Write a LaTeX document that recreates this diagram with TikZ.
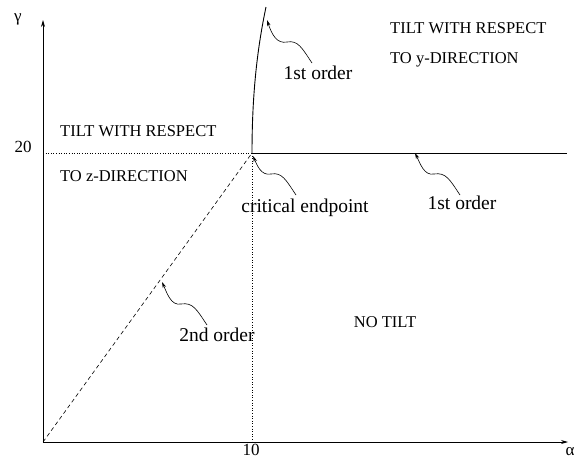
\documentclass[tikz,border=0pt]{standalone}
\usepackage{fontspec}
\setmainfont{Liberation Serif}
\usetikzlibrary{arrows.meta}
\begin{document}
\begin{tikzpicture}[x=1pt,y=-1pt,
  caps/.style={font=\fontsize{16.5}{18}\selectfont, inner sep=0pt},
  lbl/.style={font=\fontsize{19.5}{22}\selectfont, inner sep=0pt},
  num/.style={font=\fontsize{17}{20}\selectfont, inner sep=0pt},
  greek/.style={font=\fontsize{17}{20}\selectfont, inner sep=0pt},
  axis/.style={line width=0.7pt,-{Stealth[length=7pt,width=4pt]}},
  phase/.style={line width=0.9pt},
  ptr/.style={line width=0.6pt,-{Stealth[length=6pt,width=3.5pt]}}]
\useasboundingbox (0,0) rectangle (585,459);
% key points
\coordinate (O) at (43,442);
\coordinate (C) at (252,153);
\coordinate (Xend) at (568,442);
\coordinate (Yend) at (43,20);
\coordinate (Ytick) at (43,153);
\coordinate (Xtick) at (252,442);
\coordinate (Hend) at (567,153);
\coordinate (Vtop) at (266,7);
% axes
\draw[axis] (O) -- (Xend);
\draw[axis] (O) -- (Yend);
\node[greek, anchor=center] (ga) at (18,19) {γ};
\node[greek, anchor=center] (al) at (570,452) {α};
\node[num, anchor=base] (t20) at (23,152) {20};
\node[num, anchor=base] (t10) at (251,455) {10};
% guide lines
\draw[dotted, line width=0.6pt] (Ytick) -- (C);
\draw[dotted, line width=0.6pt] (C) -- (Xtick);
% phase lines
\draw[dashed, line width=0.6pt, dash pattern=on 4pt off 3pt] (O) -- (C);
\draw[phase] (C) -- (Hend);
\draw[phase] (C) .. controls (252,90) and (258,45) .. (Vtop);
% texts
\node[caps, anchor=base west] (tz1) at (60,136) {TILT WITH RESPECT};
\node[caps, anchor=base west] (tz2) at (60,181) {TO z-DIRECTION};
\node[caps, anchor=base west] (ty1) at (390,33) {TILT WITH RESPECT};
\node[caps, anchor=base west] (ty2) at (390,63) {TO y-DIRECTION};
\node[caps, anchor=base] (nt) at (385,327) {NO TILT};
\node[lbl, anchor=base] (o1) at (318,79) {1st order};
\node[lbl, anchor=base] (ce) at (305,212) {critical endpoint};
\node[lbl, anchor=base] (o2) at (462,209) {1st order};
\node[lbl, anchor=base] (so) at (217,341) {2nd order};
% pointer tips
\coordinate (p1) at (267,20);
\coordinate (p2) at (253,156);
\coordinate (p3) at (415,153);
\coordinate (p4) at (162,282);
% squiggly pointers
\draw[ptr] (312,63) .. controls (302,48) and (298,40) .. (287,42)
  .. controls (277,44) and (272,35) .. (p1);
\draw[ptr] (296,195) .. controls (286,180) and (282,172) .. (271,174)
  .. controls (261,176) and (257,165) .. (p2);
\draw[ptr] (460,195) .. controls (450,180) and (446,172) .. (434,174)
  .. controls (424,176) and (420,163) .. (p3);
\draw[ptr] (207,325) .. controls (197,310) and (193,302) .. (181,304)
  .. controls (171,306) and (167,293) .. (p4);
\end{tikzpicture}
\end{document}
